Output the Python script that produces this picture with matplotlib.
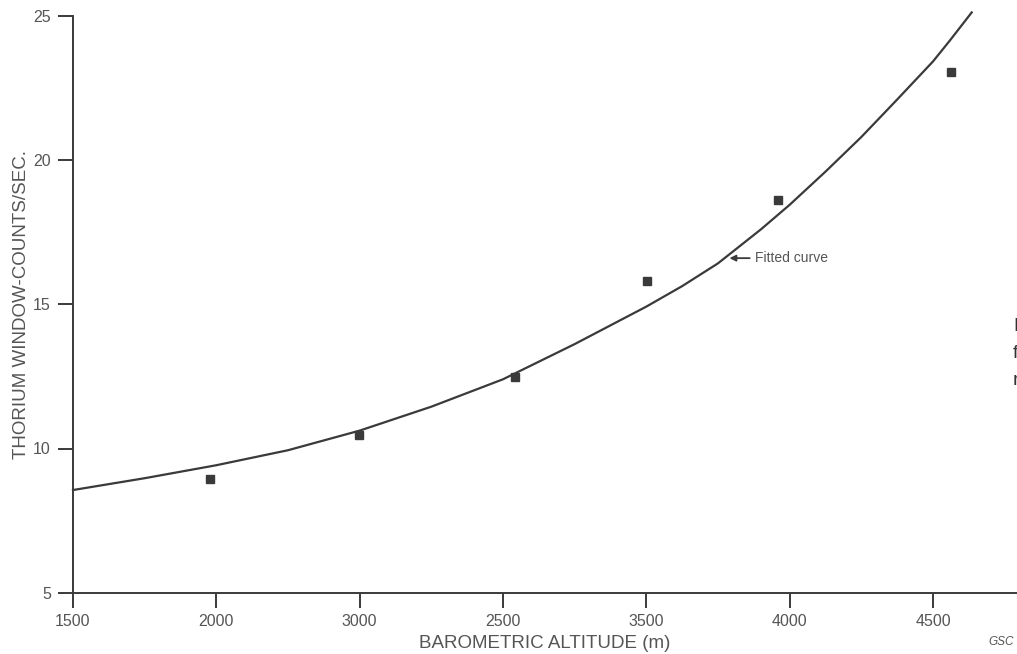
import matplotlib
matplotlib.use("Agg")
import matplotlib.pyplot as plt

# ---- data ----
obs_alt = [1978, 2498, 3042, 3501, 3959, 4563]
obs_counts = [8.94, 10.48, 12.47, 15.82, 18.62, 23.04]

curve_alt = [1500, 1750, 2000, 2250, 2500, 2750, 3000, 3250, 3500, 3625,
             3750, 3900, 4000, 4125, 4250, 4375, 4500, 4560, 4635]
curve_counts = [8.56, 8.97, 9.42, 9.94, 10.62, 11.45, 12.40, 13.62, 14.92,
                15.63, 16.42, 17.60, 18.45, 19.60, 20.80, 22.10, 23.42,
                24.16, 25.12]

xtick_pos = [1500, 2000, 2500, 3000, 3500, 4000, 4500]
xtick_labels = ["1500", "2000", "3000", "2500", "3500", "4000", "4500"]
ytick_pos = [5, 10, 15, 20, 25]
ytick_labels = ["5", "10", "15", "20", "25"]

plt.rcParams['font.family'] = ['Liberation Sans', 'DejaVu Sans']
ink = '#3a3a3a'
txt = '#555555'

fig = plt.figure(figsize=(10.17, 6.54), dpi=100)
ax = fig.add_axes([73 / 1017, 1 - 592.7 / 654, 1 - 73 / 1017, (592.7 - 15.9) / 654])

ax.plot(curve_alt, curve_counts, color=ink, lw=1.6, clip_on=False, zorder=3,
        solid_joinstyle='round')
ax.plot(obs_alt, obs_counts, ls='none', marker='s', ms=5.5, color=ink,
        clip_on=False, zorder=4)

ax.set_xlim(1500, 1500 + (1017 - 73) / 143.33 * 500)
ax.set_ylim(5, 25)

for s in ['top', 'right']:
    ax.spines[s].set_visible(False)
for s in ['left', 'bottom']:
    ax.spines[s].set_color(ink)
    ax.spines[s].set_linewidth(1.4)

ax.set_xticks(xtick_pos)
ax.set_xticklabels(xtick_labels)
ax.set_yticks(ytick_pos)
ax.set_yticklabels(ytick_labels)
ax.tick_params(axis='both', direction='out', length=11, width=1.4, color=ink,
               labelcolor=txt, labelsize=11.5)
ax.tick_params(axis='x', pad=4)
ax.tick_params(axis='y', pad=5)

ax.set_xlabel("BAROMETRIC ALTITUDE (m)", fontsize=13.5, color=txt, labelpad=5)
ax.set_ylabel("THORIUM WINDOW-COUNTS/SEC.", fontsize=13.5, color=txt, labelpad=2)

ax.annotate("Fitted curve", xy=(3790, 16.6), xytext=(3880, 16.6),
            fontsize=10, color=txt, va='center', ha='left',
            arrowprops=dict(arrowstyle='-|>', color=ink, lw=1.3,
                            mutation_scale=9, shrinkA=2, shrinkB=0))

fig.text(988 / 1017, 1 - 648 / 654, "GSC", fontsize=8.5, style='italic',
         color=txt, ha='left', va='bottom')
# caption fragments cut off at the right edge, as in the reference
for ypx, ch in [(326, "F"), (354, "f"), (381, "r")]:
    fig.text(1013 / 1017, 1 - ypx / 654, ch, fontsize=14, color='#333333',
             ha='left', va='center')

fig.savefig("out.png", dpi=100)
